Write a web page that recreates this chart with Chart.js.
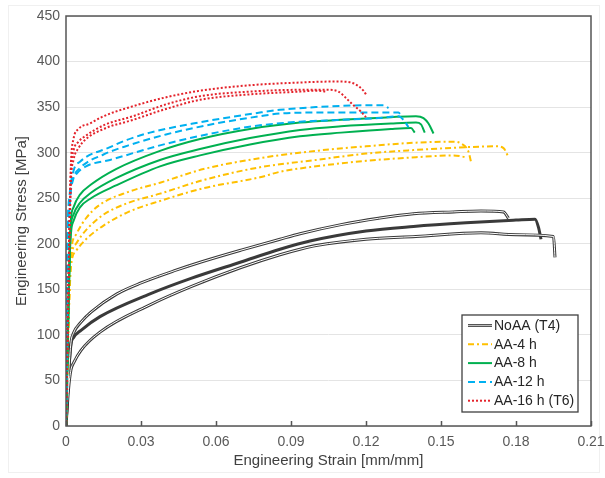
<!DOCTYPE html>
<html lang="en">
<head>
<meta charset="UTF-8">
<title>Engineering stress-strain curves</title>
<script src="https://cdn.jsdelivr.net/npm/chart.js"></script>
<style>
  html, body { margin: 0; padding: 0; background: #fff; }
  #wrap { position: relative; width: 605px; height: 478px; }
</style>
</head>
<body>
<div id="wrap"><canvas id="chart"></canvas></div>
<script>
// axis ticks
const strainTicks = [0, 0.03, 0.06, 0.09, 0.12, 0.15, 0.18, 0.21];
const stressTicks = [0, 50, 100, 150, 200, 250, 300, 350, 400, 450];

const seriesNames = ['NoAA (T4)', 'AA-4 h', 'AA-8 h', 'AA-12 h', 'AA-16 h (T6)'];

// curves, [strain, stress MPa]
const noaa1 = [[0,0],[0.001,55],[0.002,92],[0.003,102],[0.006,114],[0.01,125],[0.0204,145],[0.03,157],[0.044,171],[0.054,180],[0.07,193],[0.0856,205],[0.0936,211],[0.11,221],[0.125,228],[0.139,233],[0.155,235],[0.166,236],[0.175,235],[0.177,228]];
const noaa2 = [[0,0],[0.001,55],[0.002,90],[0.003,97],[0.006,105],[0.0136,120],[0.0336,145],[0.05,162],[0.07,180],[0.0856,194],[0.0976,203],[0.12,214],[0.139,219],[0.16,223],[0.18,226],[0.1876,227],[0.189,218],[0.19,205]];
const noaa3 = [[0,0],[0.001,40],[0.002,62],[0.003,69],[0.006,83],[0.0136,103],[0.0336,133],[0.05,153],[0.07,174],[0.0856,188],[0.0936,194],[0.1,198],[0.12,205],[0.14,208],[0.166,212],[0.18,210],[0.195,208],[0.1956,185]];

const aa4a = [[0,0],[0.001,120],[0.002,190],[0.004,210],[0.008,228],[0.0136,243],[0.025,257],[0.0376,267],[0.055,282],[0.0776,294],[0.1,302],[0.12,307],[0.14,311],[0.155,312],[0.158,310],[0.161,301],[0.162,290]];
const aa4b = [[0,0],[0.001,115],[0.002,182],[0.004,200],[0.008,215],[0.015,232],[0.025,245],[0.0376,255],[0.055,270],[0.0776,284],[0.1,292],[0.12,299],[0.14,303],[0.16,306],[0.172,307],[0.175,305],[0.177,295]];
const aa4c = [[0,0],[0.001,110],[0.002,175],[0.004,192],[0.008,205],[0.015,220],[0.025,235],[0.0376,247],[0.055,261],[0.0776,273],[0.0856,279],[0.1,285],[0.12,291],[0.14,295],[0.155,297],[0.16,295]];

const aa8a = [[0,0],[0.0008,110],[0.0015,200],[0.002,228],[0.003,240],[0.0056,254],[0.01,265],[0.02,282],[0.0376,302],[0.0536,315],[0.0736,326],[0.0936,333],[0.11,336],[0.13,339],[0.14,340],[0.143,338],[0.145,332],[0.147,321]];
const aa8b = [[0,0],[0.0008,105],[0.0015,190],[0.002,220],[0.003,232],[0.0056,245],[0.01,256],[0.02,272],[0.0376,292],[0.0536,304],[0.0736,316],[0.0936,325],[0.11,329],[0.13,332],[0.14,333],[0.142,331],[0.1435,322]];
const aa8c = [[0,0],[0.0008,100],[0.0015,185],[0.002,212],[0.003,225],[0.0056,240],[0.01,250],[0.02,264],[0.0376,285],[0.0536,297],[0.0736,309],[0.0936,318],[0.11,322],[0.13,326],[0.138,327],[0.1395,322]];

const aa12a = [[0,0],[0.0003,120],[0.0007,215],[0.0015,255],[0.003,280],[0.0056,290],[0.0176,306],[0.0244,314],[0.0336,322],[0.0508,332],[0.0776,344],[0.0856,347],[0.1,350],[0.12,352],[0.127,352],[0.129,349]];
const aa12b = [[0,0],[0.0003,115],[0.0007,210],[0.0015,248],[0.003,272],[0.0056,283],[0.015,298],[0.025,308],[0.04,320],[0.06,332],[0.0776,340],[0.0856,343],[0.1,344],[0.12,344],[0.133,344],[0.134,341]];
const aa12c = [[0,0],[0.0003,110],[0.0007,205],[0.0015,240],[0.002,262],[0.004,276],[0.008,285],[0.0176,292],[0.0376,308],[0.06,322],[0.0776,330],[0.0936,334],[0.11,336],[0.125,338],[0.133,340],[0.135,336],[0.137,328]];

const aa16a = [[0,0],[0.0008,130],[0.0015,240],[0.002,290],[0.003,315],[0.005,326],[0.0096,332],[0.015,340],[0.0256,350],[0.0404,361],[0.0536,368],[0.0736,374],[0.0936,377],[0.105,378],[0.11,378],[0.114,377],[0.117,373],[0.119,368],[0.12,364]];
const aa16b = [[0,0],[0.0008,125],[0.0015,230],[0.002,280],[0.003,302],[0.005,312],[0.0076,318],[0.015,330],[0.0268,340],[0.04,353],[0.0536,362],[0.0736,367],[0.0936,369],[0.105,369],[0.109,367],[0.112,360],[0.115,352],[0.118,345],[0.12,339]];
const aa16c = [[0,0],[0.0008,120],[0.0015,220],[0.002,270],[0.003,292],[0.005,305],[0.0076,314],[0.015,326],[0.0268,336],[0.04,348],[0.0536,358],[0.0736,364],[0.0936,367],[0.1,368],[0.104,367]];

// line styles per series
const styles = [
  { color: '#3a3a3a', width: 3, dash: [] },
  { color: '#FFC000', width: 2, dash: [6, 3, 2, 3] },
  { color: '#00B050', width: 2, dash: [] },
  { color: '#00B0F0', width: 2, dash: [7, 4] },
  { color: '#E4232B', width: 2, dash: [2, 2] }
];
const groups = [
  [noaa1, noaa2, noaa3],
  [aa4a, aa4b, aa4c],
  [aa8a, aa8b, aa8c],
  [aa12a, aa12b, aa12c],
  [aa16a, aa16b, aa16c]
];

const toXY = arr => arr.map(p => ({ x: p[0], y: p[1] }));

const datasets = [];
groups.forEach((curves, g) => {
  const s = styles[g];
  curves.forEach((c, i) => {
    datasets.push({
      label: seriesNames[g],
      data: toXY(c),
      borderColor: s.color,
      borderWidth: s.width,
      borderDash: s.dash,
      order: 10 - g * 2
    });
    // white core for the double-line NoAA curves
    if (g === 0 && i !== 1) {
      datasets.push({
        label: '',
        data: toXY(c),
        borderColor: '#ffffff',
        borderWidth: 1,
        order: 9
      });
    }
  });
});

const frame = {
  id: 'frame',
  beforeDraw(chart) {
    const { ctx } = chart;
    ctx.save();
    ctx.strokeStyle = '#f0f0f0';
    ctx.lineWidth = 1;
    ctx.strokeRect(8.5, 5.5, 591, 467);
    ctx.restore();
  },
  afterDatasetsDraw(chart) {
    const { ctx, chartArea: a, scales: { x } } = chart;
    ctx.save();
    ctx.strokeStyle = '#555';
    ctx.lineWidth = 1.5;
    ctx.strokeRect(a.left, a.top, a.right - a.left, a.bottom - a.top);
    // small inward x tick marks
    ctx.beginPath();
    strainTicks.forEach(v => {
      const px = Math.round(x.getPixelForValue(v)) + 0.5;
      ctx.moveTo(px, a.bottom);
      ctx.lineTo(px, a.bottom - 5);
    });
    ctx.stroke();

    // legend box
    const bx = 462, by = 315, bw = 116, bh = 97;
    ctx.fillStyle = '#fff';
    ctx.fillRect(bx, by, bw, bh);
    ctx.strokeStyle = '#404040';
    ctx.lineWidth = 1.3;
    ctx.strokeRect(bx, by, bw, bh);
    ctx.font = '14px "Liberation Sans", Arial, sans-serif';
    ctx.textBaseline = 'middle';
    seriesNames.forEach((name, i) => {
      const y = by + 10.5 + i * 18.8;
      const s = styles[i];
      ctx.beginPath();
      ctx.setLineDash(s.dash);
      ctx.strokeStyle = i === 0 ? '#555' : s.color;
      ctx.lineWidth = i === 0 ? 3 : s.width;
      ctx.moveTo(468, y);
      ctx.lineTo(492, y);
      ctx.stroke();
      if (i === 0) {
        ctx.beginPath();
        ctx.strokeStyle = '#bbb';
        ctx.lineWidth = 1;
        ctx.moveTo(468, y);
        ctx.lineTo(492, y);
        ctx.stroke();
      }
      ctx.setLineDash([]);
      ctx.fillStyle = '#262626';
      ctx.fillText(name, 494, y + 0.5);
    });
    ctx.restore();
  }
};

new Chart(document.getElementById('chart'), {
  type: 'scatter',
  data: { datasets },
  options: {
    responsive: true,
    maintainAspectRatio: false,
    animation: false,
    layout: { padding: { top: 16, right: 14, left: 0, bottom: 0 } },
    elements: {
      point: { radius: 0 },
      line: { tension: 0, cubicInterpolationMode: 'monotone', fill: false }
    },
    datasets: { scatter: { showLine: true } },
    plugins: {
      legend: { display: false },
      tooltip: { enabled: false }
    },
    scales: {
      x: {
        type: 'linear',
        min: 0,
        max: 0.21,
        afterBuildTicks: s => { s.ticks = strainTicks.map(v => ({ value: v })); },
        afterFit: s => { s.height = 52; s.paddingLeft = 0; s.paddingRight = 0; },
        grid: { display: false, drawTicks: false },
        border: { display: false },
        ticks: {
          padding: 8,
          color: '#595959',
          font: { family: '"Liberation Sans", Arial, sans-serif', size: 14 },
          callback: v => String(+v.toFixed(2))
        },
        title: {
          display: true,
          text: 'Engineering Strain [mm/mm]',
          color: '#404040',
          padding: { top: 0, bottom: 8 },
          font: { family: '"Liberation Sans", Arial, sans-serif', size: 15 }
        }
      },
      y: {
        min: 0,
        max: 450,
        afterBuildTicks: s => { s.ticks = stressTicks.map(v => ({ value: v })); },
        afterFit: s => { s.width = 66; s.paddingTop = 0; s.paddingBottom = 0; },
        grid: { color: '#e4e4e4', lineWidth: 1, drawTicks: false },
        border: { display: false },
        ticks: {
          padding: 6,
          color: '#595959',
          font: { family: '"Liberation Sans", Arial, sans-serif', size: 14 }
        },
        title: {
          display: true,
          text: 'Engineering Stress [MPa]',
          color: '#404040',
          padding: { top: 13, bottom: 0 },
          font: { family: '"Liberation Sans", Arial, sans-serif', size: 15 }
        }
      }
    }
  },
  plugins: [frame]
});
</script>
</body>
</html>
